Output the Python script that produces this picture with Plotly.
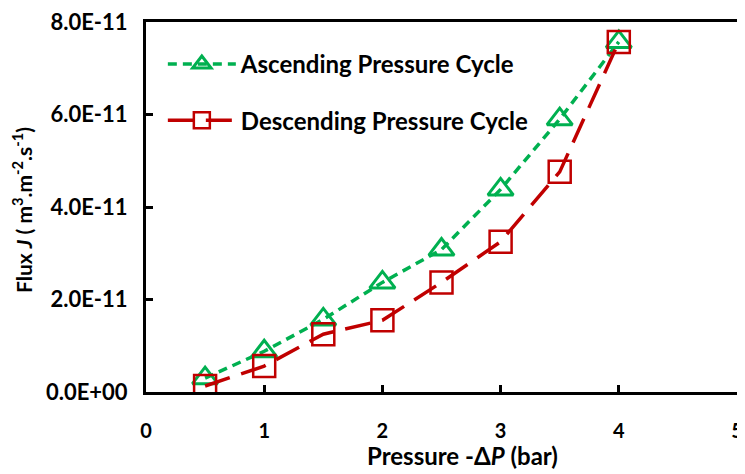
import plotly.graph_objects as go

pressure = [0.5, 1, 1.5, 2, 2.5, 3, 3.5, 4]
ascending = [0.30e-11, 0.88e-11, 1.57e-11, 2.37e-11, 3.08e-11, 4.38e-11, 5.90e-11, 7.57e-11]
descending = [0.13e-11, 0.56e-11, 1.25e-11, 1.55e-11, 2.37e-11, 3.25e-11, 4.76e-11, 7.57e-11]

y_tickvals = [0, 2e-11, 4e-11, 6e-11, 8e-11]
y_ticktext = ["0.0E+00", "2.0E-11", "4.0E-11", "6.0E-11", "8.0E-11"]
x_tickvals = [0, 1, 2, 3, 4, 5]

GREEN = "#00B050"
RED = "#C00000"
FONT = "Lato"

# page body has an 8px margin, so the figure is sized to fit the window
W, H = 737, 466
L, T, R, B = 138, 14, 8, 82
PW, PH = W - L - R, H - T - B

fig = go.Figure()
fig.add_trace(go.Scatter(
    x=pressure, y=ascending, mode="lines+markers",
    name="<b>Ascending Pressure Cycle</b>", legendgroup="a",
    line=dict(color=GREEN, width=3.5, dash="9px,6px"),
    marker=dict(symbol="triangle-up-open", size=22, color=GREEN, line=dict(width=3, color=GREEN)),
))
fig.add_trace(go.Scatter(
    x=pressure, y=descending, mode="lines+markers",
    name="<b>Descending Pressure Cycle</b>", legendgroup="d",
    line=dict(color=RED, width=3.5, dash="26px,12px"),
    marker=dict(symbol="square-open", size=22, color=RED, line=dict(width=2.5, color=RED)),
))

axis_common = dict(
    showline=True, linecolor="black", linewidth=3, mirror=True,
    ticks="inside", ticklen=7, tickwidth=2.5, tickcolor="black",
    showgrid=False, zeroline=False, automargin=False,
    ticklabeloverflow="allow",
)

fig.update_layout(
    width=W, height=H,
    margin=dict(l=L, r=R, t=T, b=B),
    paper_bgcolor="white", plot_bgcolor="white",
    font=dict(family=FONT, color="black"),
    xaxis=dict(range=[0, 5], tickvals=x_tickvals, ticklabelstandoff=19,
               tickfont=dict(family=FONT, size=20, color="black", weight="bold"),
               **axis_common),
    yaxis=dict(range=[0, 8e-11], tickvals=y_tickvals, ticktext=y_ticktext,
               ticklabelstandoff=11,
               tickfont=dict(family=FONT, size=22, color="black", weight="bold"),
               **axis_common),
    legend=dict(x=0.0285, y=0.946, xanchor="left", yanchor="top",
                bgcolor="rgba(0,0,0,0)", font=dict(family=FONT, size=24, color="black"),
                traceorder="grouped", tracegroupgap=22, itemwidth=68),
    showlegend=True,
    annotations=[
        dict(text="<b>Pressure -Δ<i>P</i> (bar)</b>", xref="paper", yref="paper",
             x=(454 - L) / PW, y=-(447 - (T + PH)) / PH,
             xanchor="center", yanchor="middle", showarrow=False,
             font=dict(family=FONT, size=24, color="black")),
        dict(text="<b>Flux <i>J</i> ( m<sup>3</sup>.m<sup>-2</sup>.s<sup>-1</sup>)</b>",
             xref="paper", yref="paper", textangle=-90,
             x=(14 - L) / PW, y=(T + PH - 202) / PH,
             xanchor="center", yanchor="middle", showarrow=False,
             font=dict(family=FONT, size=21, color="black")),
    ],
)

fig.write_html("out.html")
